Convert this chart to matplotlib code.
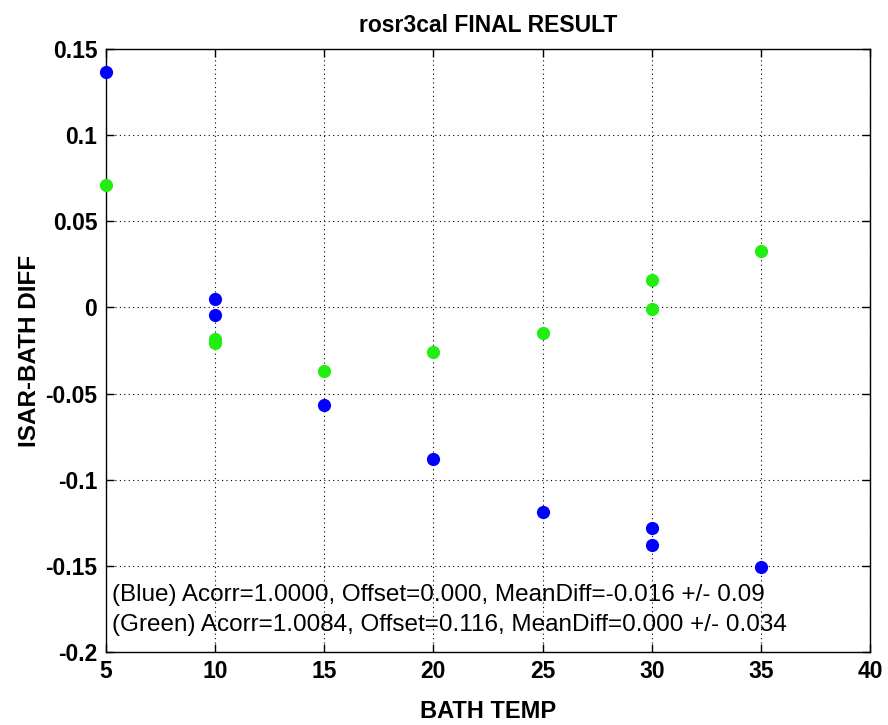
import matplotlib
matplotlib.use("Agg")
import matplotlib.pyplot as plt

plt.rcParams["font.family"] = ["Liberation Sans", "DejaVu Sans"]

# bath temperatures and ISAR-BATH differences
blue_temp = [5, 10, 10, 15, 20, 25, 30, 30, 35]
blue_diff = [0.1366, 0.0049, -0.0044, -0.0566, -0.0880, -0.1188, -0.1280, -0.1380, -0.1507]

green_temp = [5, 10, 10, 15, 20, 25, 30, 30, 35]
green_diff = [0.0710, -0.0185, -0.0205, -0.0369, -0.0258, -0.0148, 0.0159, -0.0009, 0.0330]

x_ticks = [5, 10, 15, 20, 25, 30, 35, 40]
y_ticks = [-0.2, -0.15, -0.1, -0.05, 0, 0.05, 0.1, 0.15]
y_tick_labels = ["-0.2", "-0.15", "-0.1", "-0.05", "0", "0.05", "0.1", "0.15"]

blue_text = "(Blue) Acorr=1.0000, Offset=0.000, MeanDiff=-0.016 +/- 0.09"
green_text = "(Green) Acorr=1.0084, Offset=0.116, MeanDiff=0.000 +/- 0.034"

fig = plt.figure(figsize=(8.88, 7.25), dpi=100)
ax = fig.add_axes([0.119, 0.1007, 0.861, 0.8317])

ax.plot(blue_temp, blue_diff, "o", color="#0000ff", markersize=9.5,
        markeredgewidth=0, clip_on=False, zorder=3)
ax.plot(green_temp, green_diff, "o", color="#22ee11", markersize=9.5,
        markeredgewidth=0, clip_on=False, zorder=3)

ax.set_xlim(5, 40)
ax.set_ylim(-0.2, 0.15)
ax.set_xticks(x_ticks)
ax.set_yticks(y_ticks)
ax.set_yticklabels(y_tick_labels)
ax.tick_params(direction="in", top=True, right=True, length=6, width=1,
               labelsize=16.5, pad=6)
for lbl in ax.get_xticklabels() + ax.get_yticklabels():
    lbl.set_fontweight("bold")

ax.grid(True, linestyle=(0, (1, 3)), color="black", linewidth=0.8)
for sp in ax.spines.values():
    sp.set_linewidth(1.0)

ax.set_title("rosr3cal FINAL RESULT", fontsize=16.5, fontweight="bold", pad=12)
ax.set_xlabel("BATH TEMP", fontsize=17, fontweight="bold", labelpad=12)
ax.set_ylabel("ISAR-BATH DIFF", fontsize=17.5, fontweight="bold", labelpad=3)

ax.text(5.27, -0.1672, blue_text, fontsize=17.5, va="center", ha="left")
ax.text(5.27, -0.1845, green_text, fontsize=17.5, va="center", ha="left")

fig.savefig("out.png", dpi=100)
